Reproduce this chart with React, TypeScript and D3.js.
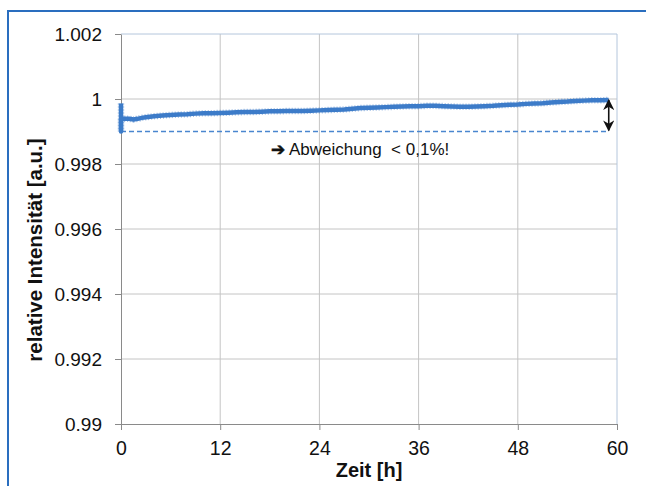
import React, { useEffect, useRef } from "react";
import * as d3 from "d3";

// time in hours and relative intensity
const hours = [
  0, 0, 0, 0.1, 0.5, 1, 1.5, 2, 2.5, 3, 4, 5, 6, 7, 8, 9, 10, 11, 12, 13, 14, 15, 16, 17, 18, 19, 20,
  21, 22, 23, 24, 25, 26, 27, 28, 29, 30, 31, 32, 33, 34, 35, 36, 37, 38, 39, 40, 41, 42, 43, 44, 45,
  46, 47, 48, 49, 50, 51, 52, 53, 54, 55, 56, 57, 58, 59,
];
const intensity = [
  0.99986, 0.999, 0.99942, 0.9994, 0.99939, 0.99939, 0.99937, 0.99939, 0.99942, 0.99944, 0.99947,
  0.99949, 0.99951, 0.99952, 0.99953, 0.99955, 0.99956, 0.99956, 0.99957, 0.99958, 0.99959, 0.9996,
  0.9996, 0.99961, 0.99962, 0.99962, 0.99963, 0.99963, 0.99963, 0.99964, 0.99965, 0.99966, 0.99967,
  0.99968, 0.9997, 0.99972, 0.99973, 0.99974, 0.99975, 0.99976, 0.99977, 0.99978, 0.99978, 0.99979,
  0.99979, 0.99978, 0.99977, 0.99976, 0.99976, 0.99977, 0.99978, 0.99979, 0.99981, 0.99982, 0.99983,
  0.99985, 0.99986, 0.99987, 0.99989, 0.99991, 0.99992, 0.99994, 0.99995, 0.99996, 0.99996, 0.99997,
];
const xTicks = [0, 12, 24, 36, 48, 60];
const yTicks = [0.99, 0.992, 0.994, 0.996, 0.998, 1, 1.002];
const yTickLabels = ["0.99", "0.992", "0.994", "0.996", "0.998", "1", "1.002"];
const refLevel = 0.999;
const refEnd = 59;
const noteArrow = "➔";
const note = " Abweichung  < 0,1%!";

const font = "'Liberation Sans', Arial, sans-serif";

export default function App() {
  const ref = useRef<SVGSVGElement>(null);

  useEffect(() => {
    const svg = d3.select(ref.current);
    svg.selectAll("*").remove();

    const x = d3.scaleLinear().domain([0, 60]).range([121, 617]);
    const y = d3.scaleLinear().domain([0.99, 1.002]).range([424, 34]);

    svg.append("rect").attr("width", 646).attr("height", 486).attr("fill", "#fff");

    // blue frame round the figure
    svg.append("path")
      .attr("d", "M8,486 L8,11 L646,11")
      .attr("fill", "none")
      .attr("stroke", "#2a6ebf")
      .attr("stroke-width", 2);

    // grid lines
    svg.append("g")
      .selectAll("line.v")
      .data(xTicks.slice(1, -1))
      .join("line")
      .attr("x1", (d) => x(d)).attr("x2", (d) => x(d))
      .attr("y1", y(1.002)).attr("y2", y(0.99))
      .attr("stroke", "#c4c4c4");
    svg.append("g")
      .selectAll("line.h")
      .data(yTicks.slice(1, -1))
      .join("line")
      .attr("x1", x(0)).attr("x2", x(60))
      .attr("y1", (d) => y(d)).attr("y2", (d) => y(d))
      .attr("stroke", "#c4c4c4");

    // plot border top and right
    svg.append("path")
      .attr("d", `M${x(0)},${y(1.002)} L${x(60)},${y(1.002)} L${x(60)},${y(0.99)}`)
      .attr("fill", "none")
      .attr("stroke", "#b4c6dc");

    // axes
    const xAxis = svg.append("g")
      .attr("transform", `translate(0,${y(0.99)})`)
      .call(d3.axisBottom(x).tickValues(xTicks).tickSize(6).tickSizeOuter(0));
    xAxis.select(".domain").attr("stroke", "#8a8a8a");
    xAxis.selectAll("line").attr("stroke", "#8a8a8a");
    xAxis.selectAll("text")
      .attr("y", 17)
      .attr("fill", "#111")
      .style("font-family", font)
      .style("font-size", "19.5px");

    const yAxis = svg.append("g")
      .attr("transform", `translate(${x(0)},0)`)
      .call(
        d3.axisLeft(y)
          .tickValues(yTicks)
          .tickSize(6)
          .tickSizeOuter(0)
          .tickFormat((d, i) => yTickLabels[i])
      );
    yAxis.select(".domain").attr("stroke", "#8a8a8a");
    yAxis.selectAll("line").attr("stroke", "#8a8a8a");
    yAxis.selectAll("text")
      .attr("x", -19)
      .attr("fill", "#111")
      .style("font-family", font)
      .style("font-size", "19px");

    // dashed reference level
    svg.append("line")
      .attr("x1", x(0)).attr("x2", x(refEnd))
      .attr("y1", y(refLevel)).attr("y2", y(refLevel))
      .attr("stroke", "#4a86cf")
      .attr("stroke-width", 1.3)
      .attr("stroke-dasharray", "5,3");

    // measured series
    const pts = hours.map((h, i) => [h, intensity[i]] as [number, number]);
    const line = d3.line<[number, number]>().x((d) => x(d[0])).y((d) => y(d[1]));
    svg.append("path")
      .datum(pts)
      .attr("d", line)
      .attr("fill", "none")
      .attr("stroke", "#3d7cc9")
      .attr("stroke-width", 4.5)
      .attr("stroke-linejoin", "round");
    svg.append("path")
      .datum(pts)
      .attr("d", line)
      .attr("fill", "none")
      .attr("stroke", "#3d7cc9")
      .attr("stroke-opacity", 0.5)
      .attr("stroke-width", 6.5)
      .attr("stroke-dasharray", "1,2");

    // double arrow marking the deviation
    const defs = svg.append("defs");
    defs.append("marker")
      .attr("id", "ah")
      .attr("viewBox", "0 0 10 10")
      .attr("refX", 9).attr("refY", 5)
      .attr("markerWidth", 7).attr("markerHeight", 7)
      .attr("orient", "auto-start-reverse")
      .append("path")
      .attr("d", "M0,0 L10,5 L0,10 L3,5 Z")
      .attr("fill", "#111");
    svg.append("line")
      .attr("x1", x(refEnd)).attr("x2", x(refEnd))
      .attr("y1", y(1.0) + 1).attr("y2", y(refLevel) - 1)
      .attr("stroke", "#111")
      .attr("stroke-width", 1.6)
      .attr("marker-start", "url(#ah)")
      .attr("marker-end", "url(#ah)");

    const noteText = svg.append("text")
      .attr("x", 271).attr("y", 155)
      .attr("fill", "#111")
      .style("font-family", font)
      .style("font-size", "17px")
      .style("white-space", "pre");
    noteText.append("tspan")
      .style("font-family", "'DejaVu Sans', sans-serif")
      .style("font-weight", "bold")
      .style("font-size", "17px")
      .attr("stroke", "#111")
      .attr("stroke-width", 0.6)
      .text(noteArrow);
    noteText.append("tspan").text(note);

    // axis titles
    svg.append("text")
      .attr("x", x(30)).attr("y", 477)
      .attr("text-anchor", "middle")
      .attr("fill", "#111")
      .style("font-family", font)
      .style("font-size", "20px")
      .style("font-weight", "bold")
      .text("Zeit [h]");
    svg.append("text")
      .attr("transform", `translate(42,250) rotate(-90)`)
      .attr("text-anchor", "middle")
      .attr("fill", "#111")
      .style("font-family", font)
      .style("font-size", "20.5px")
      .style("font-weight", "bold")
      .text("relative Intensität [a.u.]");
  }, []);

  return (
    <svg
      ref={ref}
      width={646}
      height={486}
      style={{ position: "absolute", left: 0, top: 0, display: "block" }}
    />
  );
}
